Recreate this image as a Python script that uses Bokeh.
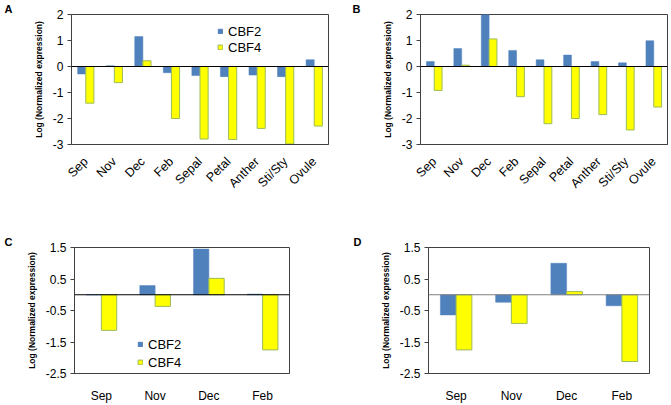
import math
from bokeh.plotting import figure
from bokeh.models import FixedTicker, Span, Legend, LegendItem
from bokeh.layouts import column, row
from bokeh.embed import file_html
from bokeh.resources import INLINE

# ---------------- data ----------------
cats_ab = ["Sep", "Nov", "Dec", "Feb", "Sepal", "Petal", "Anther", "Sti/Sty", "Ovule"]
a_cbf2 = [-0.29, 0.03, 1.15, -0.24, -0.35, -0.39, -0.33, -0.39, 0.26]
a_cbf4 = [-1.41, -0.62, 0.22, -2.00, -2.79, -2.81, -2.38, -2.98, -2.29]
b_cbf2 = [0.19, 0.69, 2.00, 0.62, 0.26, 0.44, 0.19, 0.14, 0.99]
b_cbf4 = [-0.92, 0.05, 1.06, -1.16, -2.20, -2.00, -1.85, -2.44, -1.56]

cats_cd = ["Sep", "Nov", "Dec", "Feb"]
c_cbf2 = [0.00, 0.29, 1.45, 0.02]
c_cbf4 = [-1.13, -0.37, 0.52, -1.75]
d_cbf2 = [-0.64, -0.24, 1.00, -0.35]
d_cbf4 = [-1.75, -0.91, 0.10, -2.12]

yticks_ab = [-3, -2, -1, 0, 1, 2]
ylabels_ab = ["-3", "-2", "-1", "0", "1", "2"]
yticks_cd = [-2.5, -1.5, -0.5, 0.5, 1.5]
ylabels_cd = ["-2.5", "-1.5", "-0.5", "0.5", "1.5"]

series_names = ["CBF2", "CBF4"]
panel_letters = ["A", "B", "C", "D"]
ytitle = "Log (Normalized expression)"

# ---------------- style ----------------
BLUE = "#4F81BD"
YELLOW = "#FFFF00"
YEL_LINE = "#9BBB59"
FRAME = "#404040"
FONT = "Liberation Sans"
BW = 0.285


def panel(letter, letter_off, cats, s2, s4, yticks, ylabels, w, h, bl, br, bt, bb,
          rotate, legend_xy, legend_row, zero_color):
    n = len(cats)
    p = figure(width=w, height=h, output_backend="svg", toolbar_location=None,
               x_range=(-0.5, n - 0.5), y_range=(yticks[0], yticks[-1]),
               min_border_left=bl, min_border_right=br,
               min_border_top=bt, min_border_bottom=bb)
    p.background_fill_color = "white"
    p.border_fill_color = "white"
    p.outline_line_color = FRAME
    p.outline_line_width = 1
    p.xgrid.visible = False
    p.ygrid.visible = False

    # panel letter as title, pulled left over the axis area
    p.title.text = letter
    p.title.align = "left"
    p.title.offset = letter_off
    p.title.standoff = 0
    p.title.text_font = FONT
    p.title.text_font_style = "bold"
    p.title.text_font_size = "11px"
    p.title.text_line_height = 0.75
    p.title.text_color = "black"

    xs = list(range(n))
    r2 = p.vbar(x=[x - BW / 2 for x in xs], top=s2, bottom=0, width=BW,
                fill_color=BLUE, line_color=BLUE, line_width=0.5)
    r4 = p.vbar(x=[x + BW / 2 for x in xs], top=s4, bottom=0, width=BW,
                fill_color=YELLOW, line_color=YEL_LINE, line_width=1)

    p.add_layout(Span(location=0, dimension="width", line_color=zero_color,
                      line_width=1.2))

    ya = p.yaxis[0]
    ya.ticker = FixedTicker(ticks=yticks)
    ya.major_label_overrides = {t: l for t, l in zip(yticks, ylabels)}
    ya.major_label_text_font = FONT
    ya.major_label_text_font_size = "12px"
    ya.major_label_text_color = "black"
    ya.major_tick_out = 4
    ya.major_tick_in = 0
    ya.major_tick_line_color = FRAME
    ya.minor_tick_line_color = None
    ya.axis_line_color = FRAME
    ya.major_label_standoff = 4
    ya.axis_label = ytitle
    ya.axis_label_text_font = FONT
    ya.axis_label_text_font_style = "bold"
    ya.axis_label_text_font_size = "8.5px"
    ya.axis_label_text_color = "black"
    ya.axis_label_standoff = 6

    xa = p.xaxis[0]
    xa.ticker = FixedTicker(ticks=xs)
    xa.major_label_overrides = {i: c for i, c in enumerate(cats)}
    xa.major_label_text_font = FONT
    xa.major_label_text_color = "black"
    xa.major_tick_line_color = None
    xa.minor_tick_line_color = None
    xa.axis_line_color = FRAME
    if rotate:
        xa.major_label_text_font_size = "12.5px"
        xa.major_label_orientation = math.pi / 4
        xa.major_label_standoff = 9
    else:
        xa.major_label_text_font_size = "12px"
        xa.major_label_standoff = 9

    if legend_xy is not None:
        legend = Legend(items=[LegendItem(label=series_names[0], renderers=[r2]),
                               LegendItem(label=series_names[1], renderers=[r4])],
                        location=legend_xy, orientation="vertical",
                        glyph_width=6, glyph_height=6, label_height=legend_row,
                        label_standoff=5, spacing=0, padding=0, margin=0,
                        border_line_alpha=0, background_fill_alpha=0,
                        label_text_font=FONT, label_text_font_size="13px",
                        label_text_color="black")
        p.add_layout(legend, "center")
    return p


pA = panel(panel_letters[0], -67, cats_ab, a_cbf2, a_cbf4, yticks_ab, ylabels_ab,
           335, 200, 71, 7, 13, 55, True, (146, 89), 16, "black")
pB = panel(panel_letters[1], -68, cats_ab, b_cbf2, b_cbf4, yticks_ab, ylabels_ab,
           336, 200, 85, 4, 11, 56, True, None, 16, "black")
pC = panel(panel_letters[2], -70, cats_cd, c_cbf2, c_cbf4, yticks_cd, ylabels_cd,
           335, 205, 74, 46, 47, 27, False, (63, 2), 18, "black")
pD = panel(panel_letters[3], -75, cats_cd, d_cbf2, d_cbf4, yticks_cd, ylabels_cd,
           336, 205, 93, 22, 45, 28, False, None, 18, "#808080")

layout = column(row(pA, pB, spacing=0), row(pC, pD, spacing=0), spacing=0)

open("out.html", "w").write(file_html(layout, INLINE))
